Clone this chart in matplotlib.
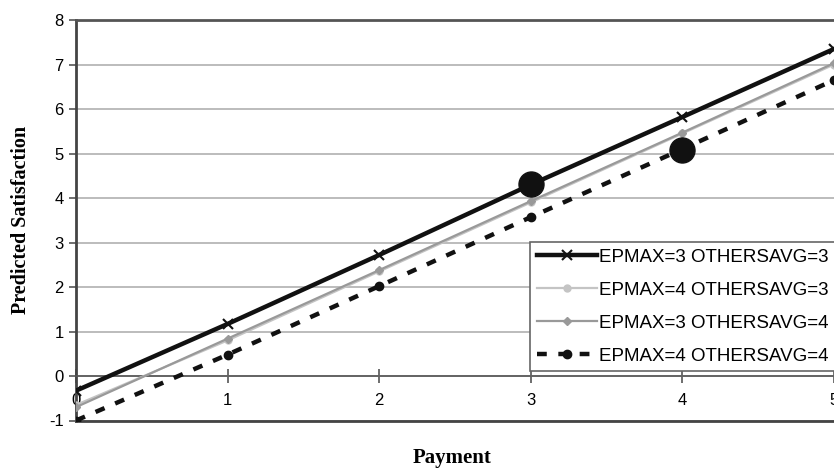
import matplotlib.pyplot as plt

payment = [0, 1, 2, 3, 4, 5]
s_e3_o3 = [-0.33, 1.17, 2.72, 4.3, 5.82, 7.35]
s_e4_o3 = [-0.65, 0.8, 2.35, 3.9, 5.45, 7.0]
s_e3_o4 = [-0.7, 0.84, 2.38, 3.93, 5.47, 7.03]
s_e4_o4 = [-1.0, 0.48, 2.02, 3.57, 5.1, 6.65]
labels = ["EPMAX=3 OTHERSAVG=3", "EPMAX=4 OTHERSAVG=3",
          "EPMAX=3 OTHERSAVG=4", "EPMAX=4 OTHERSAVG=4"]
# highlighted points (big dots)
hl_x = [3, 4]
hl_y = [4.32, 5.08]

plt.rcParams['font.family'] = ['Liberation Sans', 'DejaVu Sans']
plt.rcParams['axes.unicode_minus'] = False

fig = plt.figure(figsize=(8.34, 4.68), dpi=100)
ax = fig.add_axes([76/834, 1-420.5/468, 758/834, 400.5/468])

ax.plot(payment, s_e3_o3, color='#111111', lw=3.2, marker='x', ms=7, mew=1.5, label=labels[0], zorder=5)
ax.plot(payment, s_e4_o3, color='#c4c4c4', lw=1.6, marker='o', ms=5, label=labels[1], zorder=4)
ax.plot(payment, s_e3_o4, color='#999999', lw=1.6, marker='D', ms=4, label=labels[2], zorder=4)
ax.plot(payment, s_e4_o4, color='#111111', lw=3.2, ls=(0, (2.2, 2.6)), marker='o', ms=6,
        label=labels[3], zorder=4)
ax.plot(hl_x, hl_y, ls='none', marker='o', ms=18, color='#111111', zorder=6)

ax.set_xlim(0, 758/152)
ax.set_ylim(-1, 8)
ax.set_yticks(range(-1, 9))
ax.set_xticks(range(0, 6))
ax.grid(axis='y', color='#b0b0b0', lw=1.2)
ax.set_axisbelow(True)

ax.spines['bottom'].set_position(('data', 0))
ax.spines['bottom'].set_color('#555555')
ax.spines['bottom'].set_linewidth(1.2)
ax.axhline(-1, color='#444444', lw=2, clip_on=False)
ax.spines['top'].set_color('#555555')
ax.spines['top'].set_linewidth(2)
ax.spines['left'].set_color('#444444')
ax.spines['left'].set_linewidth(2)
ax.spines['right'].set_visible(False)

ax.tick_params(axis='x', direction='inout', length=10, width=1.2, color='#555555',
               labelsize=12, pad=7)
ax.tick_params(axis='y', direction='out', length=5, width=1.2, color='#555555',
               labelsize=12, pad=4)

fig.text(21/834, 1-220/468, 'Predicted Satisfaction', rotation=90, ha='center', va='center',
         family='Liberation Serif', fontweight='bold', fontsize=14.5)
fig.text(452/834, 1-458/468, 'Payment', ha='center', va='center',
         family='Liberation Serif', fontweight='bold', fontsize=15)

leg = ax.legend(loc='upper left', bbox_to_anchor=(530/834, 1-242/468), bbox_transform=fig.transFigure,
                fontsize=13.5, frameon=True, fancybox=False, edgecolor='#666666', framealpha=1,
                handlelength=3.2, handletextpad=0.15, labelspacing=0.85, borderpad=0.35,
                borderaxespad=0)
leg.get_frame().set_linewidth(1.2)
leg.set_zorder(10)

fig.savefig('out.png', dpi=100)
